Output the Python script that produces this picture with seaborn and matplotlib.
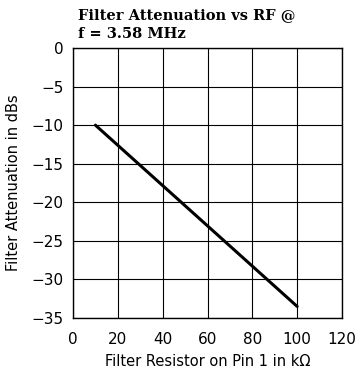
import matplotlib
matplotlib.use("Agg")
import matplotlib.pyplot as plt
import seaborn as sns
import pandas as pd

resistor_kohm = [10, 100]
attenuation_db = [-10, -33.5]
x_ticks = [0, 20, 40, 60, 80, 100, 120]
y_ticks = [0, -5, -10, -15, -20, -25, -30, -35]

sns.set_theme(style="white")
plt.rcParams['font.family'] = ['DejaVu Sans']

df = pd.DataFrame({"R": resistor_kohm, "A": attenuation_db})

fig = plt.figure(figsize=(3.56, 3.76), dpi=100)
ax = fig.add_axes([73/356, 1 - 318/376, 269/356, 270/376])
sns.lineplot(data=df, x="R", y="A", ax=ax, color="black", linewidth=2.2)

ax.set_xlim(0, 120)
ax.set_ylim(-35, 0)
ax.set_xticks(x_ticks)
ax.set_yticks(y_ticks)
ax.set_xticklabels([str(t) for t in x_ticks])
ax.set_yticklabels([str(t).replace("-", "\u2212") for t in y_ticks])
ax.grid(True, color="black", linewidth=0.8)
for s in ax.spines.values():
    s.set_color("black")
    s.set_linewidth(1.0)
    s.set_visible(True)
ax.tick_params(axis="both", length=0, labelsize=11, colors="black")
ax.tick_params(axis="x", pad=10)
ax.tick_params(axis="y", pad=7)
ax.set_xlabel("Filter Resistor on Pin 1 in k\u03a9", fontsize=10.5, labelpad=5, color="black")
ax.set_ylabel("Filter Attenuation in dBs", fontsize=10.5, labelpad=7, color="black")

fig.text(78/356, 1 - 19/376, "Filter Attenuation vs RF @", family="DejaVu Serif",
         fontweight="bold", fontsize=10.5, ha="left", va="baseline", color="black")
fig.text(78/356, 1 - 38/376, "f = 3.58 MHz", family="DejaVu Serif",
         fontweight="bold", fontsize=10.5, ha="left", va="baseline", color="black")

fig.savefig("out.png", dpi=100)
